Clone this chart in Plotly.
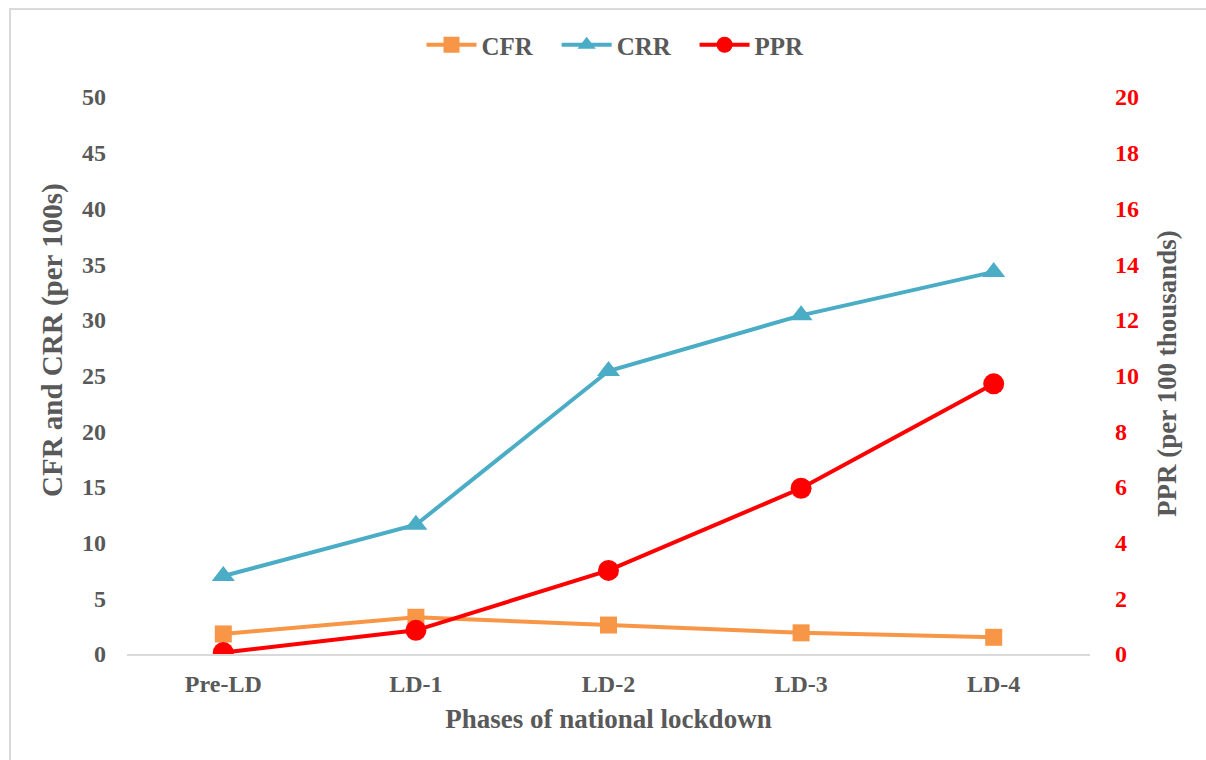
import plotly.graph_objects as go

phases = ["Pre-LD", "LD-1", "LD-2", "LD-3", "LD-4"]
cfr = [1.8, 3.3, 2.6, 1.9, 1.5]
crr = [7.0, 11.6, 25.4, 30.4, 34.3]
ppr = [0.05, 0.85, 3.0, 5.95, 9.7]

left_ticks = [0, 5, 10, 15, 20, 25, 30, 35, 40, 45, 50]
right_ticks = [0, 2, 4, 6, 8, 10, 12, 14, 16, 18, 20]

FONT = "Times New Roman, Liberation Serif, DejaVu Serif, serif"
GREY = "#595959"
FS = 24

fig = go.Figure()
fig.add_trace(go.Scatter(x=phases, y=cfr, name="<b>CFR</b>   ", mode="lines+markers",
                         line=dict(color="#F79646", width=4),
                         marker=dict(symbol="square", size=17, color="#F79646")))
fig.add_trace(go.Scatter(x=phases, y=crr, name="<b>CRR</b>   ", mode="lines+markers",
                         line=dict(color="#4BACC6", width=4),
                         marker=dict(symbol="triangle-up", size=20, color="#4BACC6")))
fig.add_trace(go.Scatter(x=phases, y=ppr, name="<b>PPR</b>", mode="lines+markers", yaxis="y2",
                         line=dict(color="#FF0000", width=4),
                         marker=dict(symbol="circle", size=21, color="#FF0000")))

W, H = 1206, 760
l, r, t, b = 127, 116, 97, 106
pw, ph = W - l - r, H - t - b

fig.update_layout(
    width=W, height=H,
    margin=dict(l=l, r=r, t=t, b=b),
    paper_bgcolor="white", plot_bgcolor="white",
    font=dict(family=FONT, color=GREY, size=FS),
    showlegend=True,
    legend=dict(orientation="h", x=0.5 + 7 / pw, xanchor="center", y=(H - b - 45) / ph, yanchor="middle",
                font=dict(size=25, color=GREY, family=FONT), itemwidth=50),
    xaxis=dict(type="category", range=[-0.5, 4.5], showgrid=False, showline=True,
               linecolor="#D9D9D9", linewidth=2, ticks="", zeroline=False,
               tickfont=dict(size=FS, color=GREY, family=FONT, weight="bold"),
               ticklabelstandoff=7,
               title=dict(text="<b>Phases of national lockdown</b>",
                          font=dict(size=27, color=GREY, family=FONT), standoff=13)),
    yaxis=dict(range=[0, 50], tickvals=left_ticks, showgrid=False, showline=False, zeroline=False,
               tickfont=dict(size=FS, color=GREY, family=FONT, weight="bold"), ticks="",
               ticklabelstandoff=20),
    yaxis2=dict(range=[0, 20], tickvals=right_ticks, overlaying="y", side="right", showgrid=False,
                showline=False, zeroline=False, ticks="",
                tickfont=dict(size=FS, color="#FF0000", family=FONT, weight="bold"),
                ticklabelstandoff=24),
    annotations=[
        dict(text="<b>CFR and CRR (per 100s)</b>", textangle=-90, showarrow=False,
             xref="paper", yref="paper", x=(52 - l) / pw, y=(H - b - 340) / ph,
             xanchor="center", yanchor="middle", font=dict(size=29, color=GREY, family=FONT)),
        dict(text="<b>PPR (per 100 thousands)</b>", textangle=-90, showarrow=False,
             xref="paper", yref="paper", x=(1167 - l) / pw, y=(H - b - 374) / ph,
             xanchor="center", yanchor="middle", font=dict(size=27, color=GREY, family=FONT)),
    ],
    shapes=[dict(type="rect", xref="paper", yref="paper",
                 x0=(10 - l) / pw, x1=(W + 20 - l) / pw,
                 y0=-(b + 20) / ph, y1=(H - b - 9) / ph,
                 line=dict(color="#D9D9D9", width=2), fillcolor="rgba(0,0,0,0)", layer="below")],
)

fig.write_html("out.html")
